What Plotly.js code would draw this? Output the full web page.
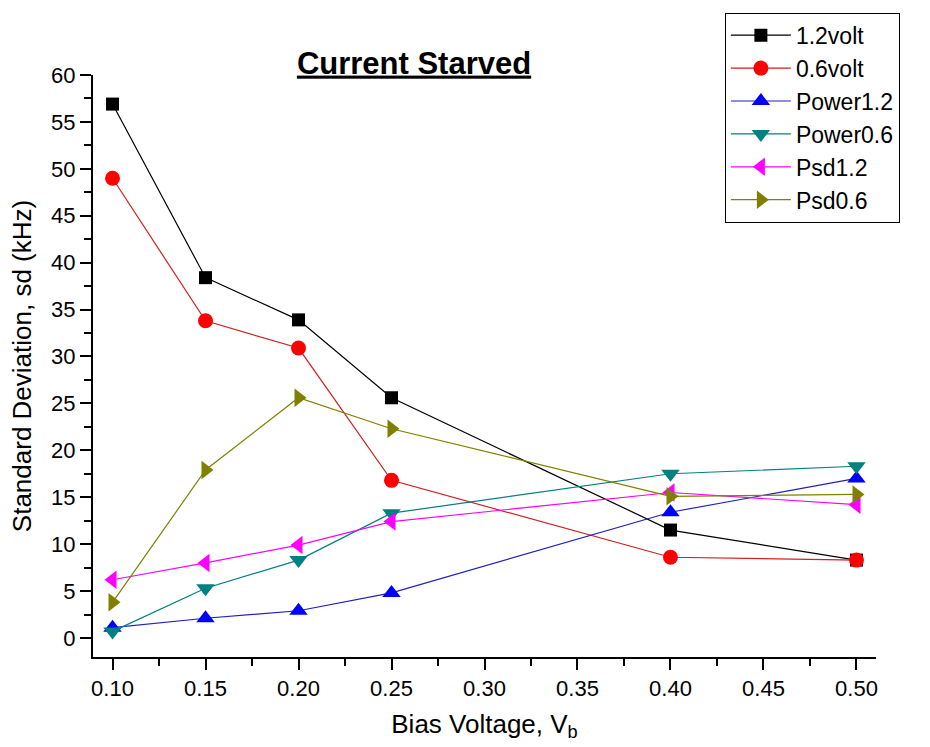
<!DOCTYPE html>
<html>
<head>
<meta charset="utf-8">
<script src="https://cdn.plot.ly/plotly-3.0.1.min.js"></script>
<style>html,body{margin:0;padding:0;background:#fff;}#chart{width:930px;height:747px;}</style>
</head>
<body>
<div id="chart"></div>
<script>
const biasVoltage = [0.10, 0.15, 0.20, 0.25, 0.40, 0.50];
const volt12 = [56.9, 38.4, 33.9, 25.6, 11.5, 8.3];
const volt06 = [49.0, 33.8, 30.9, 16.8, 8.6, 8.3];
const power12 = [1.1, 2.1, 2.9, 4.8, 13.4, 17.0];
const power06 = [0.7, 5.3, 8.3, 13.3, 17.5, 18.3];
const psd12 = [6.2, 8.0, 9.9, 12.4, 15.5, 14.2];
const psd06 = [3.8, 17.9, 25.6, 22.3, 15.1, 15.3];
const seriesNames = ["1.2volt", "0.6volt", "Power1.2", "Power0.6", "Psd1.2", "Psd0.6"];
const xTicks = [0.10, 0.15, 0.20, 0.25, 0.30, 0.35, 0.40, 0.45, 0.50];
const xTickLabels = ["0.10", "0.15", "0.20", "0.25", "0.30", "0.35", "0.40", "0.45", "0.50"];

const seriesData = [volt12, volt06, power12, power06, psd12, psd06];
const colors = ["#000000", "#ff0000", "#0000ff", "#008080", "#ff00ff", "#808000"];
const lineColors = ["#000000", "#d02020", "#2020c0", "#008080", "#ff00ff", "#808000"];
const symbols = ["square", "circle", "triangle-up", "triangle-down", "triangle-left", "triangle-right"];
const sizes = [13, 15, 16, 16, 16, 16];

const traces = seriesData.map((y, i) => ({
  x: biasVoltage,
  y: y,
  name: seriesNames[i],
  type: "scatter",
  mode: "lines+markers",
  line: {color: lineColors[i], width: 1.2},
  marker: {color: colors[i], symbol: symbols[i], size: sizes[i]}
}));

const layout = {
  width: 930, height: 747,
  margin: {l: 93, r: 54, t: 75, b: 90},
  paper_bgcolor: "#fff", plot_bgcolor: "#fff",
  font: {family: "Arial, Liberation Sans, sans-serif", color: "#000"},
  showlegend: true,
  title: {
    text: "<b>Current Starved</b>",
    font: {size: 31, color: "#000", lineposition: "under"},
    x: 0.41, xref: "paper", xanchor: "center",
    y: 0.916, yref: "container", yanchor: "middle"
  },
  xaxis: {
    range: [0.0895, 0.5105],
    tickvals: xTicks, ticktext: xTickLabels,
    ticks: "outside", ticklen: 11, tickwidth: 2, tickcolor: "#000",
    showline: true, linecolor: "#000", linewidth: 2,
    showgrid: false, zeroline: false,
    tickfont: {size: 22},
    minor: {dtick: 0.05, tick0: 0.125, ticks: "outside", ticklen: 7, tickwidth: 2, tickcolor: "#000", showgrid: false},
    title: {text: "Bias Voltage, V<sub>b</sub>", font: {size: 26}, standoff: 14}
  },
  yaxis: {
    range: [-2.03, 60],
    dtick: 5, tick0: 0,
    ticks: "outside", ticklen: 11, tickwidth: 2, tickcolor: "#000",
    showline: true, linecolor: "#000", linewidth: 2,
    showgrid: false, zeroline: false,
    tickfont: {size: 22},
    minor: {dtick: 2.5, ticks: "outside", ticklen: 7, tickwidth: 2, tickcolor: "#000", showgrid: false},
    title: {text: "Standard Deviation, sd (kHz)", font: {size: 26}, standoff: 12}
  },
  legend: {
    x: 0.807, y: 1.107, xanchor: "left", yanchor: "top",
    bordercolor: "#000", borderwidth: 1, bgcolor: "#fff",
    font: {size: 23},
    itemwidth: 60
  }
};

Plotly.newPlot("chart", traces, layout, {displayModeBar: false, staticPlot: true});
</script>
</body>
</html>
